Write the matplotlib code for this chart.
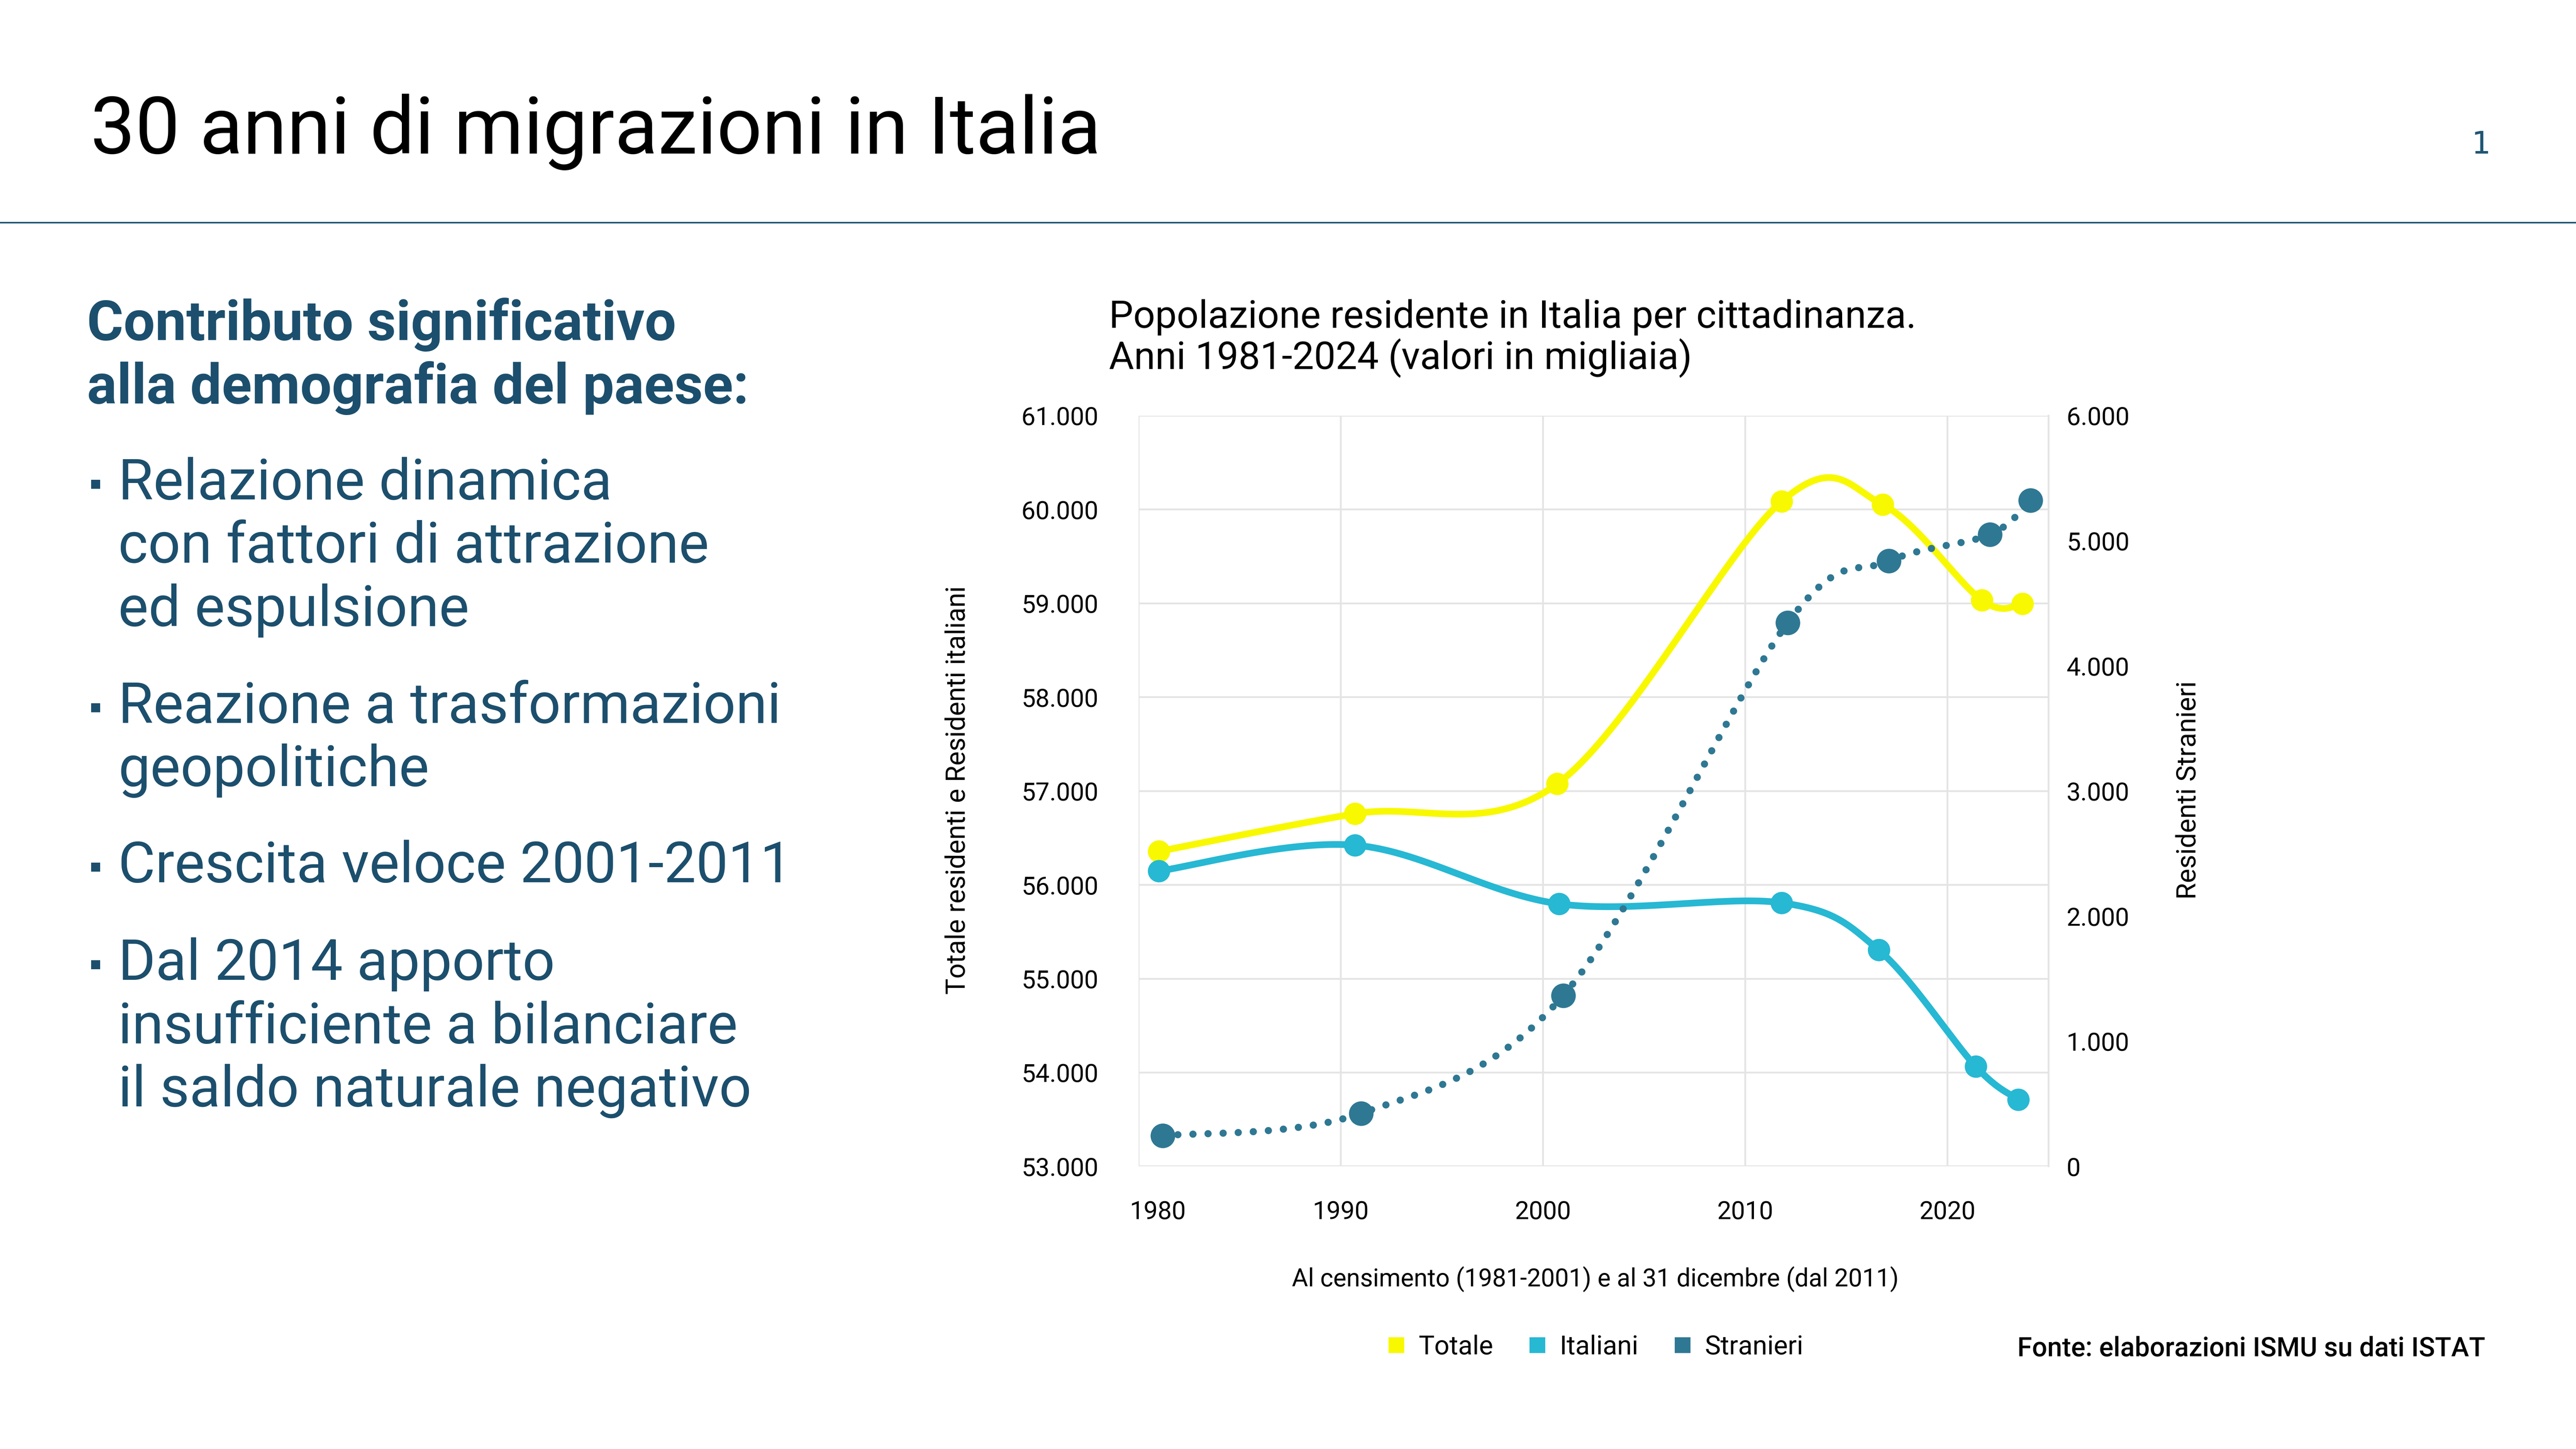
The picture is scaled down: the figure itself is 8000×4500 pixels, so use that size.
import numpy as np
import matplotlib
matplotlib.use("Agg")
import matplotlib.pyplot as plt
from matplotlib.lines import Line2D
from matplotlib.patches import Rectangle
from matplotlib.ticker import FuncFormatter, FixedLocator
from matplotlib.transforms import ScaledTranslation

# --- data (values in thousands) ---
anni_totale = [1981.0, 1990.7, 2000.7, 2011.8, 2016.8, 2021.7, 2023.7]
totale = [56357, 56758, 57076, 60087, 60052, 59033, 58995]

anni_italiani = [1981.0, 1990.7, 2000.8, 2011.8, 2016.6, 2021.4, 2023.5]
italiani = [56148, 56423, 55798, 55809, 55306, 54064, 53713]

anni_stranieri = [1981.2, 1991.0, 2001.0, 2012.1, 2017.1, 2022.1, 2024.1]
stranieri = [245, 424, 1366, 4345, 4838, 5050, 5324]

x_ticks = [1980, 1990, 2000, 2010, 2020]
left_ticks = [53000, 54000, 55000, 56000, 57000, 58000, 59000, 60000, 61000]
right_ticks = [0, 1000, 2000, 3000, 4000, 5000, 6000]

series_labels = ["Totale", "Italiani", "Stranieri"]

heading = ["Contributo significativo", "alla demografia del paese:"]
bullets = [
    ["Relazione dinamica", "con fattori di attrazione", "ed espulsione"],
    ["Reazione a trasformazioni", "geopolitiche"],
    ["Crescita veloce 2001-2011"],
    ["Dal 2014 apporto", "insufficiente a bilanciare", "il saldo naturale negativo"],
]

# --- style ---
YELLOW = "#F8F800"
CYAN = "#27B8D3"
TEAL = "#2F7893"
NAVY = "#1C4F6D"
GRID = "#E4E4E4"

plt.rcParams["font.family"] = ["Roboto", "DejaVu Sans"]

W, H = 1568.0, 882.0          # reference layout grid
K = 8000.0 / W                # output px per grid unit


def fx(px):
    return px / W


def fy(py):
    return 1.0 - py / H


fig = plt.figure(figsize=(16, 9), dpi=500)
fig.patch.set_facecolor("white")
renderer = fig.canvas.get_renderer()


def size_for(s, target, **kw):
    """Font size so that string s is `target` grid units wide."""
    t = fig.text(0, 0, s, fontsize=10, **kw)
    w = t.get_window_extent(renderer=renderer).width
    t.remove()
    return 10.0 * target * K / w


def excel_smooth(x, y, xlim, ylim, box_w, box_h, n=80):
    """Excel-like smoothed line (Catmull-Rom Bezier in screen space)."""
    px = (np.asarray(x, float) - xlim[0]) / (xlim[1] - xlim[0]) * box_w
    py = (np.asarray(y, float) - ylim[0]) / (ylim[1] - ylim[0]) * box_h
    P = np.column_stack([px, py])
    P = np.vstack([P[0], P, P[-1]])
    t = np.linspace(0, 1, n)[:, None]
    segs = []
    for i in range(1, len(P) - 2):
        p0, p1, p2, p3 = P[i - 1], P[i], P[i + 1], P[i + 2]
        c1 = p1 + (p2 - p0) / 6.0
        c2 = p2 - (p3 - p1) / 6.0
        seg = (1 - t) ** 3 * p1 + 3 * (1 - t) ** 2 * t * c1 + 3 * (1 - t) * t ** 2 * c2 + t ** 3 * p2
        segs.append(seg if i == 1 else seg[1:])
    S = np.vstack(segs)
    xs = xlim[0] + S[:, 0] / box_w * (xlim[1] - xlim[0])
    ys = ylim[0] + S[:, 1] / box_h * (ylim[1] - ylim[0])
    return xs, ys


# --- header ---
title = "30 anni di migrazioni in Italia"
fig.text(fx(55), fy(93.5), title, ha="left", va="baseline", color="black",
         fontsize=size_for(title, 616))
fig.text(fx(1510), fy(93.5), "1", ha="center", va="baseline", color="#1F5573",
         fontsize=14, family="DejaVu Sans Mono")
fig.add_artist(Line2D([0, 1], [fy(135.4), fy(135.4)], transform=fig.transFigure,
                      color="#1F5573", lw=0.7))

# --- left text block ---
fs_head = size_for(heading[1], 403, weight="bold")
for i, line in enumerate(heading):
    fig.text(fx(53), fy(207 + 38.6 * i), line, ha="left", va="baseline",
             color=NAVY, weight="bold", fontsize=fs_head)

fs_bul = size_for(bullets[1][0], 404)
base = [304, 440, 537, 596.5]
for b0, group in zip(base, bullets):
    fig.add_artist(Rectangle((fx(55.5), fy(b0 - 6.5)), 5.5 / W, 5.5 / H,
                             transform=fig.transFigure, color=NAVY, lw=0))
    for j, line in enumerate(group):
        fig.text(fx(72), fy(b0 + 38.5 * j), line, ha="left", va="baseline",
                 color=NAVY, fontsize=fs_bul)

# --- chart titles ---
ct1 = "Popolazione residente in Italia per cittadinanza."
ct2 = "Anni 1981-2024 (valori in migliaia)"
fs_ct = size_for(ct1, 492)
fig.text(fx(675), fy(199.5), ct1, ha="left", va="baseline", fontsize=fs_ct)
fig.text(fx(675), fy(224.5), ct2, ha="left", va="baseline", fontsize=fs_ct)

# --- chart ---
xlim = (1980, 2025)
ylim_l = (53000, 61000)
ylim_r = (0, 6000)

ax = fig.add_axes([fx(693), fy(710), fx(1247) - fx(693), fy(253) - fy(710)])
ax2 = ax.twinx()
ax.set_xlim(*xlim)
ax.set_ylim(*ylim_l)
ax2.set_ylim(*ylim_r)

bb = ax.get_window_extent(renderer=renderer)
bw, bh = bb.width, bb.height

fs_tick = size_for("61.000", 47)
thousands = FuncFormatter(lambda v, _: f"{v:,.0f}".replace(",", "."))

ax.xaxis.set_major_locator(FixedLocator(x_ticks))
ax.yaxis.set_major_locator(FixedLocator(left_ticks))
ax2.yaxis.set_major_locator(FixedLocator(right_ticks))
ax.yaxis.set_major_formatter(thousands)
ax2.yaxis.set_major_formatter(thousands)
ax.tick_params(axis="y", length=0, pad=18, labelsize=fs_tick)
ax.tick_params(axis="x", length=0, pad=15, labelsize=fs_tick)
ax2.tick_params(axis="y", length=0, pad=8, labelsize=fs_tick)

# first year label sits a little inside the plot, as in the original
first = ax.get_xticklabels()[0]
first.set_transform(first.get_transform() + ScaledTranslation(0.12, 0, fig.dpi_scale_trans))

ax.grid(True, color=GRID, lw=0.8)
ax.set_axisbelow(True)
for a in (ax, ax2):
    for s in a.spines.values():
        s.set_visible(False)
ax2.spines["right"].set_visible(True)
ax2.spines["right"].set_color(GRID)
ax2.spines["right"].set_linewidth(0.8)

xs, ys = excel_smooth(anni_totale, totale, xlim, ylim_l, bw, bh)
ax.plot(xs, ys, color=YELLOW, lw=3, solid_capstyle="round", zorder=3)
ax.plot(anni_totale, totale, "o", color=YELLOW, ms=9, zorder=4)

xs, ys = excel_smooth(anni_italiani, italiani, xlim, ylim_l, bw, bh)
ax.plot(xs, ys, color=CYAN, lw=3, solid_capstyle="round", zorder=3)
ax.plot(anni_italiani, italiani, "o", color=CYAN, ms=9, zorder=4)

xs, ys = excel_smooth(anni_stranieri, stranieri, xlim, ylim_r, bw, bh)
ax2.plot(xs, ys, color=TEAL, lw=3.2, ls=(0, (0.01, 2.1)), dash_capstyle="round", zorder=3)
ax2.plot(anni_stranieri, stranieri, "o", color=TEAL, ms=10, zorder=4)

# axis titles
ylab_l = "Totale residenti e Residenti italiani"
ylab_r = "Residenti Stranieri"
xlab = "Al censimento (1981-2001) e al 31 dicembre (dal 2011)"
fig.text(fx(583), fy(481), ylab_l, rotation=90, ha="center", va="center",
         fontsize=size_for(ylab_l, 249))
fig.text(fx(1332), fy(481), ylab_r, rotation=90, ha="center", va="center",
         fontsize=size_for(ylab_r, 133))
fig.text(fx(971), fy(783), xlab, ha="center", va="baseline",
         fontsize=size_for(xlab, 370))

# legend
handles = [Line2D([], [], marker="s", ls="none", color=c, ms=6) for c in (YELLOW, CYAN, TEAL)]
fig.legend(handles, series_labels, ncol=3, loc="center", frameon=False,
           bbox_to_anchor=(fx(971), fy(820)), fontsize=size_for("Stranieri", 60),
           handlelength=0.7, handletextpad=0.5, columnspacing=1.3)

# source
src = "Fonte: elaborazioni ISMU su dati ISTAT"
fig.text(fx(1228), fy(825.5), src, ha="left", va="baseline", weight="medium",
         fontsize=size_for(src, 285, weight="medium"))

fig.savefig("out.png", dpi=500, facecolor="white")
